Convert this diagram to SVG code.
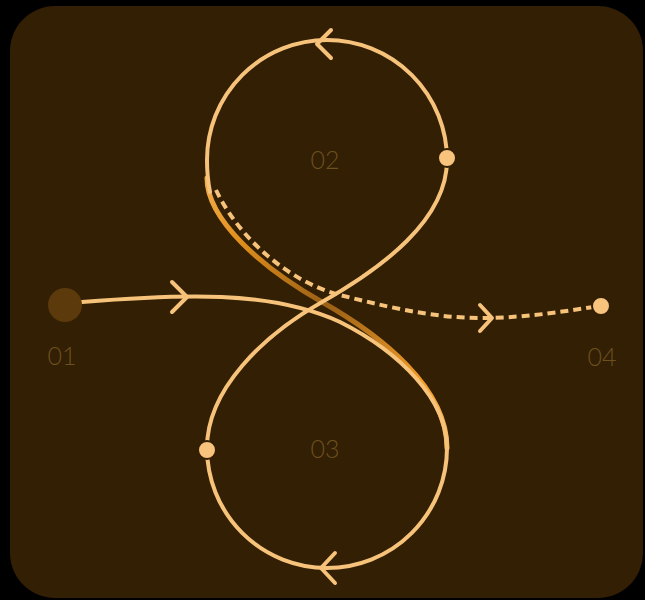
<svg xmlns="http://www.w3.org/2000/svg" width="645" height="600" viewBox="0 0 645 600">
<defs>
<style>
.ln{fill:none;stroke:#f7c27a;stroke-width:4;stroke-linecap:round;stroke-linejoin:round}
.dash{fill:none;stroke:#f7c27a;stroke-width:4;stroke-dasharray:8 5}
.lbl{font-family:Lato,"Open Sans","Liberation Sans",sans-serif;font-weight:300;font-size:25px;fill:#6e4f1f;text-anchor:middle}
.dot{fill:#f8c37c;stroke:#321f04;stroke-width:2}
</style>
<linearGradient id="g" gradientUnits="userSpaceOnUse" x1="207" y1="170" x2="447" y2="440">
<stop offset="0" stop-color="#f4b050"/>
<stop offset="0.2" stop-color="#e2901c"/>
<stop offset="0.5" stop-color="#9a6015"/>
<stop offset="0.82" stop-color="#f09a26"/>
<stop offset="1" stop-color="#f6b24a"/>
</linearGradient>
</defs>
<rect width="645" height="600" fill="#000"/>
<rect x="10" y="6" width="633" height="592" rx="45" fill="#321f04"/>
<g id="connectors">
<path d="M207 178 C207 220 262 268 322 302 C382 336 447 388 447 448" fill="none" stroke="url(#g)" stroke-width="5" stroke-linecap="round"/>
<path class="ln" d="M82 302 C180 294 270 290 340 322 C400 352 447 400 447 448 A120 120 0 0 1 207 448 C207 390 262 336 322 302 C382 268 447 220 447 160 A120 120 0 0 0 207 160 C207 172 208 182 210 192"/>
<path class="dash" d="M216 190 C240 240 290 282 340 295 C380 305 430 318 480 318 C530 318 570 310 601 306"/>
<path class="ln" d="M172 282 L187 297 L172 312"/>
<path class="ln" d="M331 30 L317 44 L331 58"/>
<path class="ln" d="M335 553 L321 568 L335 583"/>
<path class="ln" d="M480 305 L492 318 L480 331"/>
</g>
<g id="n01"><circle cx="65" cy="305" r="17" fill="#5c3a0c"/><text class="lbl" x="62" y="365">01</text></g>
<g id="n02"><circle class="dot" cx="447" cy="158" r="9"/><text class="lbl" x="325" y="169">02</text></g>
<g id="n03"><circle class="dot" cx="207" cy="450" r="9"/><text class="lbl" x="325" y="458">03</text></g>
<g id="n04"><circle class="dot" cx="601" cy="306" r="9"/><text class="lbl" x="602" y="366">04</text></g>
</svg>
